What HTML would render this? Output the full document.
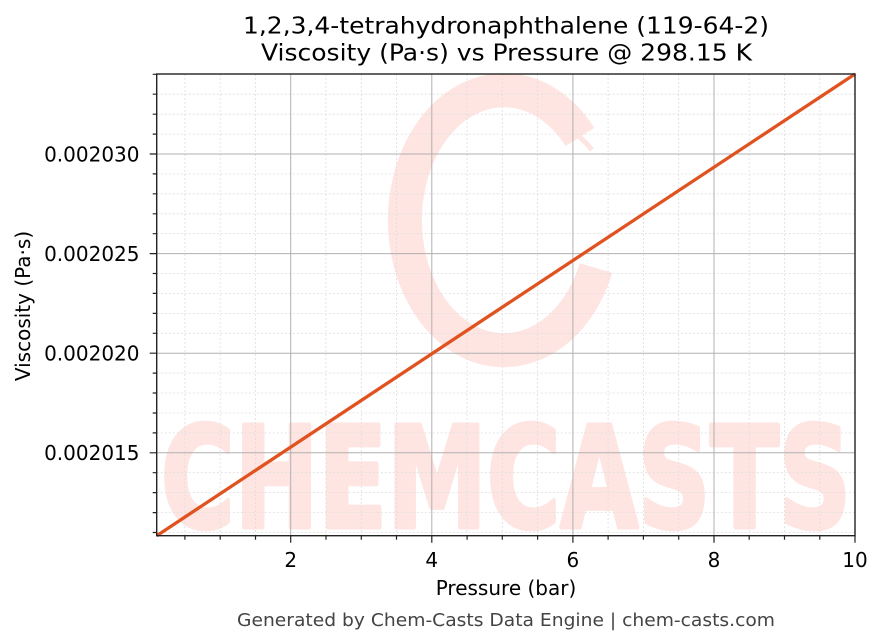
<!DOCTYPE html>
<html><head><meta charset="utf-8"><style>
html,body{margin:0;padding:0;background:#fff;}
svg{display:block;}
text{font-family:"DejaVu Sans","Liberation Sans",sans-serif;}
</style></head><body>
<svg width="883" height="644" viewBox="0 0 883 644" xmlns="http://www.w3.org/2000/svg">
<rect width="883" height="644" fill="#fff"/>
<!-- watermark -->
<g>
  <path d="M 580 137 A 99 130 0 1 0 596 268" fill="none" stroke="#fee5e2" stroke-width="34"/>
  <path d="M 420 300 Q 480 370 560 330" fill="none" stroke="#fee5e2" stroke-width="14"/>
  <path d="M 455 104 Q 540 88 592 150" fill="none" stroke="#fee5e2" stroke-width="5"/>
  <text x="161" y="527" font-family="Liberation Sans, sans-serif" font-weight="bold" font-size="140" fill="#fee5e2" stroke="#fee5e2" stroke-width="5" stroke-linejoin="round" textLength="690" lengthAdjust="spacingAndGlyphs">CHEMCASTS</text>
</g>
<!-- minor grid -->
<g stroke="#dedede" stroke-width="0.8" stroke-dasharray="2,2">
  <path d="M184.9 74V535.7M220.2 74V535.7M255.5 74V535.7M326 74V535.7M361.3 74V535.7M396.5 74V535.7M467.1 74V535.7M502.3 74V535.7M537.6 74V535.7M608.1 74V535.7M643.4 74V535.7M678.7 74V535.7M749.2 74V535.7M784.5 74V535.7M819.8 74V535.7"/>
  <path d="M156.7 532.5H855M156.7 512.6H855M156.7 492.6H855M156.7 472.7H855M156.7 432.9H855M156.7 413H855M156.7 393H855M156.7 373.1H855M156.7 333.3H855M156.7 313.4H855M156.7 293.4H855M156.7 273.5H855M156.7 233.7H855M156.7 213.8H855M156.7 193.8H855M156.7 173.9H855M156.7 134.1H855M156.7 114.2H855M156.7 94.2H855"/>
</g>
<!-- major grid -->
<g stroke="#b0b0b0" stroke-width="1">
  <path d="M290.7 74V535.7M431.8 74V535.7M572.9 74V535.7M714 74V535.7"/>
  <path d="M156.7 452.8H855M156.7 353.2H855M156.7 253.6H855M156.7 154H855"/>
</g>
<!-- data line -->
<line x1="156.7" y1="535.7" x2="855" y2="74" stroke="#e0521f" stroke-width="3.3"/>
<!-- spines -->
<rect x="156.7" y="74" width="698.3" height="461.7" fill="none" stroke="#222" stroke-width="1.4"/>
<!-- ticks -->
<g stroke="#222" stroke-width="1.2">
  <path d="M290.7 535.7v7M431.8 535.7v7M572.9 535.7v7M714 535.7v7M855 535.7v7"/>
  <path d="M184.9 535.7v4M220.2 535.7v4M255.5 535.7v4M326 535.7v4M361.3 535.7v4M396.5 535.7v4M467.1 535.7v4M502.3 535.7v4M537.6 535.7v4M608.1 535.7v4M643.4 535.7v4M678.7 535.7v4M749.2 535.7v4M784.5 535.7v4M819.8 535.7v4"/>
  <path d="M156.7 452.8h-7M156.7 353.2h-7M156.7 253.6h-7M156.7 154h-7"/>
  <path d="M156.7 532.5h-4M156.7 512.6h-4M156.7 492.6h-4M156.7 472.7h-4M156.7 432.9h-4M156.7 413h-4M156.7 393h-4M156.7 373.1h-4M156.7 333.3h-4M156.7 313.4h-4M156.7 293.4h-4M156.7 273.5h-4M156.7 233.7h-4M156.7 213.8h-4M156.7 193.8h-4M156.7 173.9h-4M156.7 134.1h-4M156.7 114.2h-4M156.7 94.2h-4M156.7 74.3h-4"/>
</g>
<!-- tick labels -->
<g font-size="20" fill="#000" text-anchor="middle">
  <text x="290.7" y="567">2</text>
  <text x="431.8" y="567">4</text>
  <text x="572.9" y="567">6</text>
  <text x="714" y="567">8</text>
  <text x="855" y="567">10</text>
</g>
<g font-size="20" fill="#000" text-anchor="end">
  <text x="139.5" y="161.3">0.002030</text>
  <text x="139.5" y="260.9">0.002025</text>
  <text x="139.5" y="360.5">0.002020</text>
  <text x="139.5" y="460.1">0.002015</text>
</g>
<!-- axis labels -->
<text x="506" y="595" font-size="20" text-anchor="middle" fill="#000">Pressure (bar)</text>
<text transform="translate(30,306) rotate(-90)" font-size="20" text-anchor="middle" fill="#000">Viscosity (Pa·s)</text>
<!-- title -->
<text x="243" y="33.5" font-size="23" fill="#000" textLength="526" lengthAdjust="spacingAndGlyphs">1,2,3,4-tetrahydronaphthalene (119-64-2)</text>
<text x="261" y="60.5" font-size="23" fill="#000" textLength="491" lengthAdjust="spacingAndGlyphs">Viscosity (Pa·s) vs Pressure @ 298.15 K</text>
<!-- footer -->
<text x="237" y="626" font-size="18" fill="#444" textLength="538" lengthAdjust="spacingAndGlyphs">Generated by Chem-Casts Data Engine | chem-casts.com</text>
</svg>
</body></html>
